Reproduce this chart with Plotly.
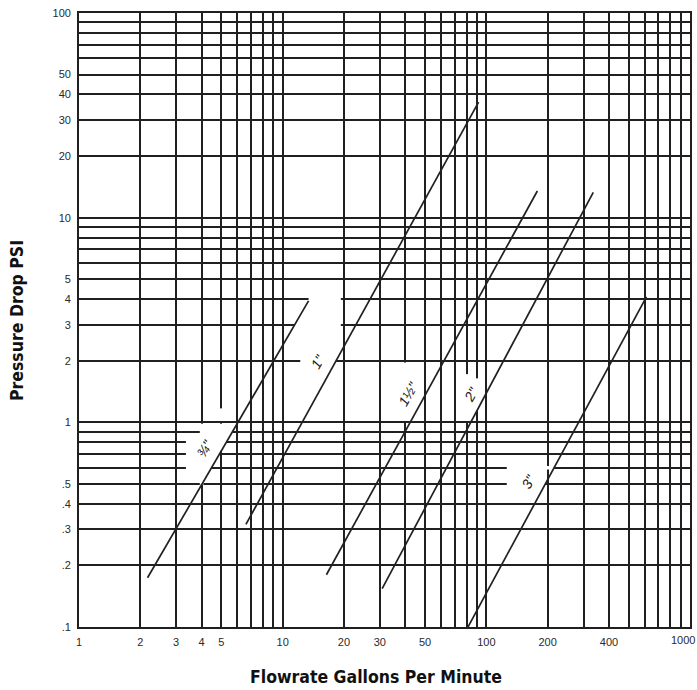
import numpy as np
import plotly.graph_objects as go

# ---------------- data ----------------
pipe_sizes = ['¾"', '1"', '1½"', '2"', '3"']
flow_start = [2.17, 6.6, 16.4, 30.8, 80.4]      # GPM at lower end of each line
flow_end = [13.4, 91.6, 178, 335, 611]          # GPM at upper end
psi_start = [0.174, 0.317, 0.18, 0.154, 0.098]  # PSI at lower end
psi_end = [3.92, 36.7, 13.5, 13.3, 4.1]         # PSI at upper end

label_flow = [4.16, 14.96, 41.4, 84.7, 162.4]
label_psi = [0.746, 1.99, 1.37, 1.37, 0.514]

x_tickvals = [1, 2, 3, 4, 5, 10, 20, 30, 50, 100, 200, 400, 1000]
x_ticktext = ['1', '2', '3', '4', '5', '10', '20', '30', '50', '100', '200', '400', '1000']
y_tickvals = [0.1, 0.2, 0.3, 0.4, 0.5, 1, 2, 3, 4, 5, 10, 20, 30, 40, 50, 100]
y_ticktext = ['.1', '.2', '.3', '.4', '.5', '1', '2', '3', '4', '5', '10', '20', '30', '40', '50', '100']

x_title = 'Flowrate Gallons Per Minute'
y_title = 'Pressure Drop PSI'

# ---------------- helpers ----------------
def flow_at(i, psi):
    lx0, lx1 = np.log10(flow_start[i]), np.log10(flow_end[i])
    ly0, ly1 = np.log10(psi_start[i]), np.log10(psi_end[i])
    t = (np.log10(psi) - ly0) / (ly1 - ly0)
    return 10 ** (lx0 + t * (lx1 - lx0))


def psi_at(i, flow):
    lx0, lx1 = np.log10(flow_start[i]), np.log10(flow_end[i])
    ly0, ly1 = np.log10(psi_start[i]), np.log10(psi_end[i])
    t = (np.log10(flow) - lx0) / (lx1 - lx0)
    return 10 ** (ly0 + t * (ly1 - ly0))


def minor_vals(lo_exp, hi_exp, major):
    vals = []
    for e in range(lo_exp, hi_exp):
        for m in range(1, 10):
            v = round(m * 10 ** e, 6)
            if not any(abs(v - mv) < 1e-9 for mv in major):
                vals.append(v)
    return vals


INK = '#202020'
GW = 1.7

fig = go.Figure()

for i, name in enumerate(pipe_sizes):
    fig.add_trace(go.Scatter(
        x=[flow_start[i], flow_end[i]],
        y=[psi_start[i], psi_end[i]],
        mode='lines', name=name,
        line=dict(color=INK, width=1.7),
        hoverinfo='skip', showlegend=False,
    ))

# gaps in the printed grid around the size labels (white masks between grid and lines)
h_gaps = [
    (0.9, 3.96, flow_at(0, 0.9)),
    (0.8, 3.35, flow_at(0, 0.8)),
    (0.7, 3.35, flow_at(0, 0.7)),
    (0.6, 3.35, flow_at(0, 0.6)),
    (2, 12.2, flow_at(1, 2)),
    (3, flow_at(0, 3), 19.3),
    (4, 13.4, 19.3),
    (0.6, 126, flow_at(4, 0.6)),
    (0.5, 126, flow_at(4, 0.5)),
]
v_gaps = [
    (4, psi_at(0, 4), 0.985),
    (5, psi_at(0, 5), 0.985),
    (5, 1.015, 1.17),
    (40, 1.015, 1.96),
    (80, 1.015, 1.72),
    (90, psi_at(3, 90), 1.64),
]
d = 10 ** 0.009
shapes = []
for yv, xa, xb in h_gaps:
    shapes.append(dict(type='rect', xref='x', yref='y', x0=xa, x1=xb,
                       y0=yv / d, y1=yv * d, fillcolor='white',
                       line=dict(width=0), layer='between'))
for xv, ya, yb in v_gaps:
    shapes.append(dict(type='rect', xref='x', yref='y', x0=xv / d, x1=xv * d,
                       y0=ya, y1=yb, fillcolor='white',
                       line=dict(width=0), layer='between'))

annotations = []
for i, name in enumerate(pipe_sizes):
    annotations.append(dict(
        x=np.log10(label_flow[i]), y=np.log10(label_psi[i]), xref='x', yref='y',
        text='<i>' + name + '</i>', showarrow=False, textangle=-60,
        font=dict(family='Liberation Sans, Arial, sans-serif', size=14, color=INK),
    ))

title_font = dict(family='Liberation Sans Narrow, Arial Narrow, DejaVu Sans Condensed, sans-serif',
                  size=17.5, color='#111111')
annotations.append(dict(text='<b>' + x_title + '</b>', xref='paper', yref='paper',
                        x=0.486, y=-0.0814, xanchor='center', yanchor='middle',
                        showarrow=False, font=title_font))
annotations.append(dict(text='<b>' + y_title + '</b>', xref='paper', yref='paper',
                        x=-0.1015, y=0.5, xanchor='center', yanchor='middle',
                        textangle=-90, showarrow=False, font=title_font))

tick_font = dict(family='Liberation Sans, Arial, sans-serif', size=11, color='#2a2a2a')

# the last x label sits against the right edge of the page, as in the print
x_labels_axis = x_ticktext[:-1] + ['']
annotations.append(dict(text=x_ticktext[-1], xref='paper', yref='paper',
                        x=1.0113, y=-0.0212, xanchor='right', yanchor='middle',
                        showarrow=False, font=tick_font))

fig.update_layout(
    width=697, height=690,
    margin=dict(l=79, r=7, t=13, b=63, autoexpand=False),
    paper_bgcolor='white', plot_bgcolor='white',
    showlegend=False, hovermode=False,
    shapes=shapes, annotations=annotations,
    xaxis=dict(
        type='log', range=[0, 3], automargin=False,
        tickmode='array', tickvals=x_tickvals, ticktext=x_labels_axis,
        ticks='', tickfont=tick_font, ticklabelstandoff=4,
        ticklabeloverflow='allow',
        showgrid=True, gridcolor=INK, gridwidth=GW,
        minor=dict(tickmode='array', tickvals=minor_vals(0, 3, x_tickvals),
                   showgrid=True, gridcolor=INK, gridwidth=GW, ticks=''),
        showline=True, mirror=True, linecolor=INK, linewidth=1.7,
        zeroline=False,
    ),
    yaxis=dict(
        type='log', range=[-1, 2], automargin=False,
        tickmode='array', tickvals=y_tickvals, ticktext=y_ticktext,
        ticks='', tickfont=tick_font, ticklabelstandoff=4,
        ticklabeloverflow='allow',
        showgrid=True, gridcolor=INK, gridwidth=GW,
        minor=dict(tickmode='array', tickvals=minor_vals(-1, 2, y_tickvals),
                   showgrid=True, gridcolor=INK, gridwidth=GW, ticks=''),
        showline=True, mirror=True, linecolor=INK, linewidth=1.7,
        zeroline=False,
    ),
)

fig.write_html('out.html', config={'displayModeBar': False},
               post_script="document.body.style.margin='0';document.body.style.overflow='hidden';")
